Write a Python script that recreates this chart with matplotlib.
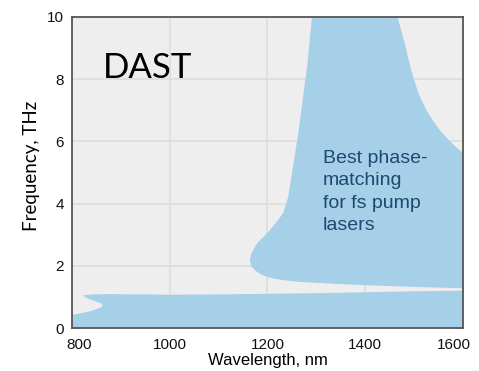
import numpy as np
import matplotlib.pyplot as plt
import matplotlib.transforms as mtransforms

# phase-matching region for fs pump lasers (upper lobe), boundary in (nm, THz)
upper_wl = [1291, 1281, 1263, 1248, 1242, 1232, 1218, 1205, 1190, 1180, 1174,
            1167, 1164, 1166, 1174, 1185, 1198, 1215, 1232, 1260, 1293, 1340,
            1395, 1500, 1600,
            1600, 1593, 1572, 1552, 1538, 1525, 1510, 1498, 1489, 1481, 1473, 1466]
upper_thz = [10.0, 8.4, 6.26, 4.76, 4.2, 3.69, 3.4, 3.15, 2.9, 2.75, 2.6,
             2.4, 2.19, 2.0, 1.86, 1.74, 1.65, 1.58, 1.54, 1.49, 1.46, 1.42,
             1.38, 1.32, 1.28,
             5.64, 5.72, 6.02, 6.37, 6.68, 7.01, 7.5, 8.08, 8.6, 9.15, 9.6, 10.0]

# low-frequency band with the notch near 800 nm
band_wl = [800, 1600, 1600, 1500, 1400, 1300, 1200, 1100, 1000, 950, 870,
           840, 822, 826, 835, 848, 858, 863, 860, 850, 835, 818, 800]
band_thz = [0.0, 0.0, 1.2, 1.18, 1.15, 1.12, 1.1, 1.08, 1.07, 1.08, 1.09,
            1.08, 1.05, 1.0, 0.93, 0.86, 0.8, 0.74, 0.67, 0.6, 0.53, 0.47, 0.42]

xticks = [800, 1000, 1200, 1400, 1600]
yticks = [0, 2, 4, 6, 8, 10]

fill_c = '#a6cfe8'

fig = plt.figure(figsize=(4.79, 3.71), dpi=100)
ax = fig.add_axes([0.1503, 0.1159, 0.8163, 0.8383])
ax.set_facecolor('#eeeeee')

ax.fill(band_wl, band_thz, color=fill_c, lw=0, zorder=2)
ax.fill(upper_wl, upper_thz, color=fill_c, lw=0, zorder=2)

ax.set_xlim(800, 1600)
ax.set_ylim(0, 10)
ax.set_xticks(xticks)
ax.set_yticks(yticks)
ax.grid(True, color='#dcdcdc', lw=1.2, zorder=1)
ax.set_axisbelow(True)
ax.tick_params(length=0, labelsize=11, colors='#111111')
ax.tick_params(axis='x', pad=7)
ax.tick_params(axis='y', pad=6)
for lab in ax.get_xticklabels() + ax.get_yticklabels():
    lab.set_family('Liberation Sans')

# keep the end labels inside the frame
xlabs = ax.get_xticklabels()
xlabs[0].set_transform(xlabs[0].get_transform() +
                       mtransforms.ScaledTranslation(7 / 100, 0, fig.dpi_scale_trans))
xlabs[-1].set_transform(xlabs[-1].get_transform() +
                        mtransforms.ScaledTranslation(-9 / 100, 0, fig.dpi_scale_trans))

for sp in ax.spines.values():
    sp.set_color('#555555')
    sp.set_linewidth(1.3)
    sp.set_zorder(3)

ax.set_xlabel('Wavelength, nm', family='Liberation Sans', fontsize=12, labelpad=1)
ax.set_ylabel('Frequency, THz', family='Lato', fontsize=13.5, labelpad=6)
ax.yaxis.set_label_coords(-0.082, 0.52)

ax.text(863, 8.04, 'DAST', family='Lato', fontsize=25, color='black',
        ha='left', va='baseline', zorder=4)
ax.text(1313, 5.72, 'Best phase-\nmatching\nfor fs pump\nlasers',
        family='Liberation Sans', fontsize=14, color='#1d4a70',
        ha='left', va='top', linespacing=1.4, zorder=4)

fig.savefig('out.png', dpi=100)
